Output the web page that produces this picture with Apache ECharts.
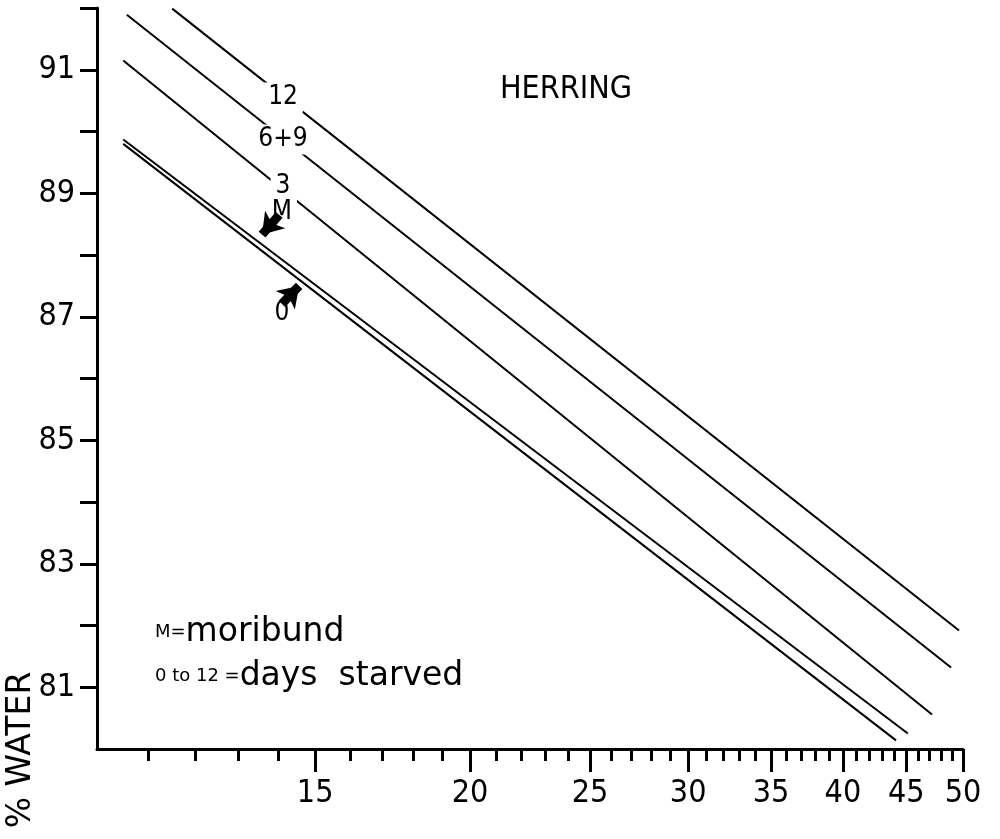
<!DOCTYPE html>
<html>
<head>
<meta charset="utf-8">
<script src="https://cdn.jsdelivr.net/npm/echarts@6/dist/echarts.min.js"></script>
<style>
html,body{margin:0;padding:0;background:#fff;}
#chart{width:1000px;height:839px;}
</style>
</head>
<body>
<div id="chart"></div>
<script>
// ---- data (x read on a log scale, y = % water) ----
const xRange = [10, 50];
const yRange = [80, 92];
const xMajorTicks = [15, 20, 25, 30, 35, 40, 45, 50];
const xMinorTicks = [11, 12, 13, 14, 16, 17, 18, 19, 21, 22, 23, 24, 26, 27, 28, 29,
  31, 32, 33, 34, 36, 37, 38, 39, 41, 42, 43, 44, 46, 47, 48, 49];
const yTicks = [81, 82, 83, 84, 85, 86, 87, 88, 89, 90, 91, 92];
const yLabels = [81, 83, 85, 87, 89, 91];

const line0   = [[10.50, 89.80], [44.15, 80.14]];
const lineM   = [[10.50, 89.87], [45.13, 80.25]];
const line3   = [[10.50, 91.15], [47.20, 80.56]];
const line69  = [[10.57, 91.89], [48.90, 81.32]];
const line12  = [[11.50, 91.99], [49.63, 81.92]];

const lineNames = ['0', 'M', '3', '6+9', '12'];
const lineData = [line0, lineM, line3, line69, line12];

// line annotations: [x, y, text]
const lineLabels = [[14.13, 90.55, '12'], [14.13, 89.87, '6+9'], [14.13, 89.12, '3'], [14.10, 88.70, 'M'], [14.10, 87.06, '0']];
// arrows: [tail, head]
const arrowM = [[14.03, 88.65], [13.59, 88.33]];
const arrow0 = [[14.10, 87.21], [14.56, 87.50]];

const lg = v => Math.log10(v);
const toLog = pts => pts.map(p => [lg(p[0]), p[1]]);

const NARROW = "'Liberation Sans Narrow', 'DejaVu Sans Condensed', 'Roboto Condensed', Roboto, sans-serif";
const WIDE = "'DejaVu Sans', 'Open Sans', sans-serif";

const chart = echarts.init(document.getElementById('chart'), null, {renderer: 'canvas'});

const series = lineData.map((d, i) => ({
  name: lineNames[i],
  type: 'line',
  data: toLog(d),
  showSymbol: false,
  symbol: 'none',
  silent: true,
  lineStyle: {color: '#000', width: 2},
  z: 2
}));

series.push({
  type: 'scatter',
  data: lineLabels.map(p => [lg(p[0]), p[1], p[2]]),
  symbolSize: 1,
  itemStyle: {color: 'rgba(0,0,0,0)'},
  silent: true,
  z: 5,
  label: {
    show: true,
    position: 'inside',
    formatter: p => p.value[2],
    color: '#000',
    opacity: 1,
    textBorderWidth: 0,
    textShadowBlur: 0,
    fontFamily: NARROW,
    fontSize: 26,
    backgroundColor: '#fff',
    padding: [2, 5]
  }
});

series.push({
  type: 'lines',
  coordinateSystem: 'cartesian2d',
  silent: true,
  z: 6,
  symbol: ['none', 'arrow'],
  symbolSize: 20,
  lineStyle: {color: '#000', width: 9, opacity: 1, curveness: 0},
  data: [
    {coords: toLog(arrowM)},
    {coords: toLog(arrow0)}
  ]
});

const option = {
  backgroundColor: '#fff',
  animation: false,
  grid: {left: 97, right: 37, top: 8, bottom: 90},
  xAxis: [
    {
      type: 'value',
      min: lg(xRange[0]),
      max: lg(xRange[1]),
      position: 'bottom',
      splitLine: {show: false},
      axisLine: {show: true, lineStyle: {color: '#000', width: 3}},
      axisTick: {show: true, length: 23, lineStyle: {color: '#000', width: 3}, customValues: xMajorTicks.map(lg)},
      axisLabel: {
        show: true, customValues: xMajorTicks.map(lg), margin: 29,
        formatter: v => String(Math.round(Math.pow(10, v))),
        color: '#000', fontFamily: NARROW, fontSize: 32
      }
    },
    {
      type: 'value',
      min: lg(xRange[0]),
      max: lg(xRange[1]),
      position: 'bottom',
      offset: 0,
      splitLine: {show: false},
      axisLine: {show: false},
      axisTick: {show: true, length: 12, lineStyle: {color: '#000', width: 3}, customValues: xMinorTicks.map(lg)},
      axisLabel: {show: false}
    }
  ],
  yAxis: {
    type: 'value',
    min: yRange[0],
    max: yRange[1],
    splitLine: {show: false},
    axisLine: {show: true, lineStyle: {color: '#000', width: 3}},
    axisTick: {show: true, length: 17, lineStyle: {color: '#000', width: 3}, customValues: yTicks},
    axisLabel: {show: true, customValues: yLabels, margin: 22, color: '#000', fontFamily: NARROW, fontSize: 32}
  },
  graphic: [
    {
      type: 'text', x: 566, y: 90,
      style: {text: 'HERRING', fill: '#000', font: "32px " + NARROW, textAlign: 'center', textVerticalAlign: 'middle'}
    },
    {
      type: 'text', x: 21, y: 750, rotation: Math.PI / 2,
      style: {text: '% WATER', fill: '#000', font: "33px " + WIDE, textAlign: 'center', textVerticalAlign: 'middle'}
    },
    {
      type: 'text', x: 155, y: 632,
      style: {
        text: '{s|M=}{b|moribund}',
        textVerticalAlign: 'middle',
        rich: {
          s: {fontSize: 18, fontFamily: WIDE, fill: '#000', color: '#000'},
          b: {fontSize: 33, fontFamily: WIDE, fill: '#000', color: '#000'}
        }
      }
    },
    {
      type: 'text', x: 155, y: 676,
      style: {
        text: '{s|0 to 12 =}{b|days  starved}',
        textVerticalAlign: 'middle',
        rich: {
          s: {fontSize: 18, fontFamily: WIDE, fill: '#000', color: '#000'},
          b: {fontSize: 33, fontFamily: WIDE, fill: '#000', color: '#000'}
        }
      }
    }
  ],
  series: series
};

chart.setOption(option);
</script>
</body>
</html>
